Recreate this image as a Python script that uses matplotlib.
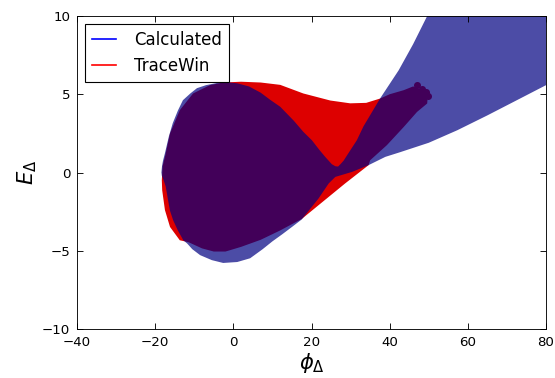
import numpy as np
import matplotlib
matplotlib.use("Agg")
import matplotlib.pyplot as plt

# Calculated separatrix outline (phi, E), clockwise from the left tip
calc_phi = [-18.4, -18.25, -18.0, -17.5, -16.5, -15.5, -14.2, -12.9, -11.0, -9.3,
            -7.0, -4.2, -1.6, 1.0, 4.0, 7.0, 9.4, 12.0, 15.5, 17.9,
            20.1, 22.0, 23.5, 25.2, 26.1, 26.8, 27.4, 28.2, 29.1, 31.6,
            33.3, 37.6, 42.3, 46.0, 50.0, 60.0, 82.0, 82.0,
            80.0, 72.0, 65.0, 57.3, 50.0, 42.7, 38.9, 34.6, 30.4, 26.1,
            24.4, 21.8, 17.5, 15.0, 12.5, 10.0, 7.5, 4.3, 1.0, -2.6,
            -5.5, -8.5, -10.5, -11.8, -12.8, -14.2, -15.4, -16.2, -16.7, -17.3,
            -17.9, -18.3]
calc_E = [0.0, 0.4, 0.75, 1.23, 2.3, 3.15, 3.95, 4.62, 5.05, 5.39,
          5.58, 5.72, 5.77, 5.7, 5.5, 5.1, 4.65, 4.2, 3.3, 2.6,
          2.06, 1.45, 1.0, 0.53, 0.4, 0.38, 0.53, 0.75, 1.1, 2.06,
          2.95, 4.75, 6.53, 8.2, 10.2, 14.6, 24.0, 5.8,
          5.58, 4.55, 3.65, 2.7, 1.9, 1.3, 1.0, 0.47, 0.04, -0.28,
          -0.7, -1.66, -3.0, -3.48, -3.95, -4.4, -4.9, -5.48, -5.72, -5.78,
          -5.6, -5.28, -4.9, -4.54, -4.33, -3.7, -3.05, -2.45, -1.77, -0.9,
          -0.45, -0.2]

# TraceWin particle cloud outline (phi, E)
tw_phi = [-18.3, -18.1, -17.5, -16.2, -13.7, -10.3, -6.0, -2.6, 2.0, 7.0,
          12.0, 17.9, 24.8, 29.9, 34.0, 37.6, 40.0, 43.6, 46.0, 48.0,
          49.8, 49.6, 47.0, 43.6, 39.3, 35.0, 34.6, 28.6, 21.8, 17.5,
          15.0, 12.0, 7.0, 2.0, -2.0, -5.0, -8.0, -11.5, -13.7, -16.2,
          -17.5, -18.2]
tw_E = [-0.5, 0.4, 1.0, 2.49, 3.98, 5.05, 5.58, 5.75, 5.8, 5.75,
        5.6, 5.05, 4.6, 4.42, 4.45, 4.73, 5.0, 5.26, 5.5, 5.3,
        5.05, 4.41, 3.87, 2.91, 1.75, 0.78, 0.47, -0.7, -2.09, -2.97,
        -3.3, -3.7, -4.3, -4.75, -5.05, -5.05, -4.85, -4.45, -4.33, -3.48,
        -2.4, -1.14]

# a few stray TraceWin particles at the tip of the tail
tail_phi = [47.0, 49.4, 49.7, 48.2]
tail_E = [5.58, 5.15, 4.88, 5.35]

fig = plt.figure(figsize=(555 / 80, 378 / 80), dpi=80)
ax = fig.add_axes([77 / 555, 49 / 378, 469 / 555, 313 / 378])

ax.fill(tw_phi, tw_E, color="#dd0000", lw=0)
ax.scatter(tail_phi, tail_E, s=40, color="#dd0000", lw=0)
ax.fill(calc_phi, calc_E, color="navy", alpha=0.7, lw=0)

ax.plot([], [], color="b", label="Calculated")
ax.plot([], [], color="r", label="TraceWin")

ax.set_xlim(-40, 80)
ax.set_ylim(-10, 10)
ax.set_xticks([-40, -20, 0, 20, 40, 60, 80])
ax.set_yticks([-10, -5, 0, 5, 10])
ax.tick_params(direction="in", top=True, right=True, length=5, labelsize=12, pad=6)
ax.set_xlabel(r"$\phi_\Delta$", fontsize=19, labelpad=2)
ax.set_ylabel(r"$E_\Delta$", fontsize=19, labelpad=3)

leg = ax.legend(loc="upper left", fontsize=15, fancybox=False, framealpha=1,
                edgecolor="black", handlelength=1.45, handletextpad=1.1,
                borderaxespad=0.5, borderpad=0.4, labelspacing=0.5)
leg.get_frame().set_linewidth(1.0)

fig.savefig("out.png", dpi=80)
